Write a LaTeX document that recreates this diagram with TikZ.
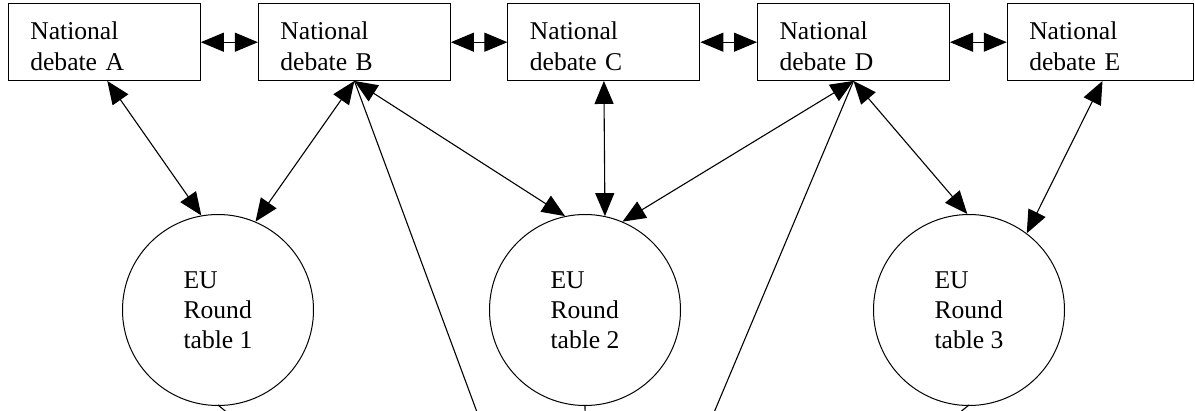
\documentclass[tikz,border=0pt]{standalone}
\usepackage{fontspec}
\setmainfont{Liberation Serif}
\usetikzlibrary{arrows.meta}

\begin{document}
\begin{tikzpicture}[x=1pt, y=-1pt,
    debate/.style={draw, line width=1pt, text width=148pt, inner xsep=22pt,
      inner ysep=0pt, minimum height=76.5pt, align=left, text depth=24pt,
      font=\fontsize{25.6}{31}\selectfont},
    rtable/.style={draw, circle, line width=1pt, minimum size=191pt,
      inner sep=0pt, align=left, font=\fontsize{25.6}{30}\selectfont},
    link/.style={{Triangle[length=23pt,width=19pt]}-{Triangle[length=23pt,width=19pt]},
      line width=1.1pt},
    feed/.style={line width=1.1pt}]
  \useasboundingbox (0,0) rectangle (1195,410);
  \clip (0,0) rectangle (1195,410);
  \node[debate] (A) at (104.3,42.2) {National\\debate A};
  \node[debate] (B) at (354.4,42.2) {National\\debate B};
  \node[debate] (C) at (603.9,42.2) {National\\debate C};
  \node[debate] (D) at (853.5,42.2) {National\\debate D};
  \node[debate, text width=142.5pt] (E) at (1100.5,42.2) {National\\debate E};
  \node[rtable] (c1) at (218,310) {EU\\Round\\table 1};
  \node[rtable] (c2) at (585,310) {EU\\Round\\table 2};
  \node[rtable] (c3) at (969,310) {EU\\Round\\table 3};
  \coordinate (hub) at (588,712);
  \draw[link] (A) -- (B);
  \draw[link] (B) -- (C);
  \draw[link] (C) -- (D);
  \draw[link] (D) -- (E);
  \draw[link] ([xshift=3pt]A.south) -- (c1.100);
  \draw[link] (B.south) -- (c1.67);
  \draw[link] (B.south) -- (c2.102);
  \draw[link] (C.south) -- (c2.78);
  \draw[link] (D.south) -- (c2.67);
  \draw[link] (D.south) -- (c3.91);
  \draw[link] ([xshift=2pt]E.south) -- (c3.53);
  \draw[feed] (B.south) -- (hub);
  \draw[feed] (D.south) -- (hub);
  \draw[feed] ([yshift=1pt]c1.south) -- (hub);
  \draw[feed] ([yshift=1pt]c2.south) -- (hub);
  \draw[feed] ([yshift=1pt]c3.south) -- (hub);
\end{tikzpicture}
\end{document}
